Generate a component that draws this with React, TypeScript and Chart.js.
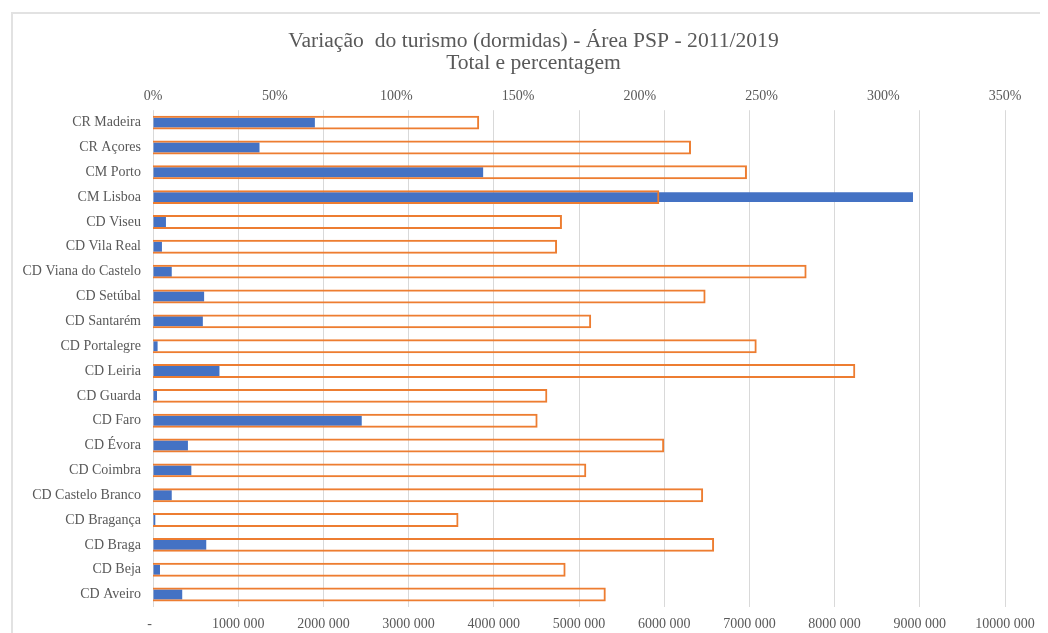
import React, { useEffect, useRef } from "react";
import { Chart, registerables } from "chart.js";

Chart.register(...registerables);

const categories = [
  "CR Madeira", "CR Açores", "CM Porto", "CM Lisboa", "CD Viseu", "CD Vila Real",
  "CD Viana do Castelo", "CD Setúbal", "CD Santarém", "CD Portalegre", "CD Leiria",
  "CD Guarda", "CD Faro", "CD Évora", "CD Coimbra", "CD Castelo Branco",
  "CD Bragança", "CD Braga", "CD Beja", "CD Aveiro",
];

const totals = [
  1900000, 1250000, 3875000, 8920000, 152000, 105000, 220000, 600000, 585000, 54000,
  780000, 47000, 2450000, 410000, 450000, 220000, 27000, 625000, 82000, 343000,
];

const percents = [
  134, 221, 244, 208, 168, 166, 268.5, 227, 180, 248,
  288.5, 162, 158, 210, 178, 226, 125.5, 230.5, 169.5, 186,
];

const titleLines = [
  "Variação  do turismo (dormidas) - Área PSP - 2011/2019",
  "Total e percentagem",
];

const FONT = "'Liberation Serif', 'Times New Roman', serif";
const TEXT = "#595959";

function fmtTotal(v: number): string {
  if (v === 0) return "-  ";
  const thousands = Math.floor(v / 1000);
  const rest = String(Math.round(v % 1000)).padStart(3, "0");
  return `${thousands} ${rest}`;
}

export default function App() {
  const ref = useRef<HTMLCanvasElement | null>(null);

  useEffect(() => {
    if (!ref.current) return;
    const chart = new Chart(ref.current, {
      type: "bar",
      data: {
        labels: categories,
        datasets: [
          {
            label: "Total",
            data: totals,
            xAxisID: "x",
            backgroundColor: "#4472C4",
            borderWidth: 0,
            grouped: false,
            barPercentage: 0.4,
            categoryPercentage: 1,
            order: 2,
          },
          {
            label: "Percentagem",
            data: percents,
            xAxisID: "x2",
            backgroundColor: "rgba(0,0,0,0)",
            borderColor: "#ED7D31",
            borderWidth: 2,
            grouped: false,
            barPercentage: 0.56,
            categoryPercentage: 1,
            order: 1,
          },
        ],
      },
      options: {
        indexAxis: "y",
        responsive: false,
        animation: false,
        devicePixelRatio: 1,
        layout: { padding: 0 },
        plugins: {
          legend: { display: false },
          tooltip: { enabled: false },
          title: {
            display: true,
            text: titleLines,
            color: TEXT,
            font: { family: FONT, size: 21.6, weight: "normal", lineHeight: 1.0 },
            padding: { top: 23, bottom: 0 },
          },
        },
        scales: {
          y: {
            type: "category",
            grid: { display: false, drawTicks: false },
            border: { display: false },
            ticks: { color: TEXT, font: { family: FONT, size: 14 }, padding: 12 },
            afterFit: (s: any) => { s.width = 145; },
          },
          yr: {
            type: "category",
            position: "right",
            display: true,
            grid: { display: false, drawTicks: false },
            border: { display: false },
            ticks: { display: false },
            afterFit: (s: any) => { s.width = 54; },
          },
          x: {
            type: "linear",
            position: "bottom",
            min: 0,
            max: 10000000,
            grid: { color: "#d9d9d9", lineWidth: 1, drawTicks: false },
            border: { display: false },
            ticks: {
              stepSize: 1000000,
              color: TEXT,
              font: { family: FONT, size: 14 },
              padding: 9,
              maxRotation: 0,
              autoSkip: false,
              callback: (v: any) => fmtTotal(Number(v)),
            },
            afterFit: (s: any) => { s.height = 26; },
          },
          x2: {
            type: "linear",
            position: "top",
            min: 0,
            max: 350,
            grid: { display: false, drawTicks: false },
            border: { display: false },
            ticks: {
              stepSize: 50,
              color: TEXT,
              font: { family: FONT, size: 14 },
              padding: 5,
              maxRotation: 0,
              autoSkip: false,
              callback: (v: any) => `${v}%`,
            },
            afterFit: (s: any) => { s.height = 36; },
          },
        },
      },
    });
    return () => chart.destroy();
  }, []);

  return (
    <div style={{ position: "relative", width: 1040, height: 625, overflow: "hidden", background: "#fff" }}>
      <div
        style={{
          position: "absolute",
          left: 3,
          top: 4,
          width: 2000,
          height: 2000,
          borderTop: "2px solid #e2e2e2",
          borderLeft: "2px solid #e2e2e2",
        }}
      />
      <canvas
        ref={ref}
        width={1051}
        height={625}
        style={{ position: "absolute", left: 0, top: 0, width: 1051, height: 625 }}
      />
    </div>
  );
}
